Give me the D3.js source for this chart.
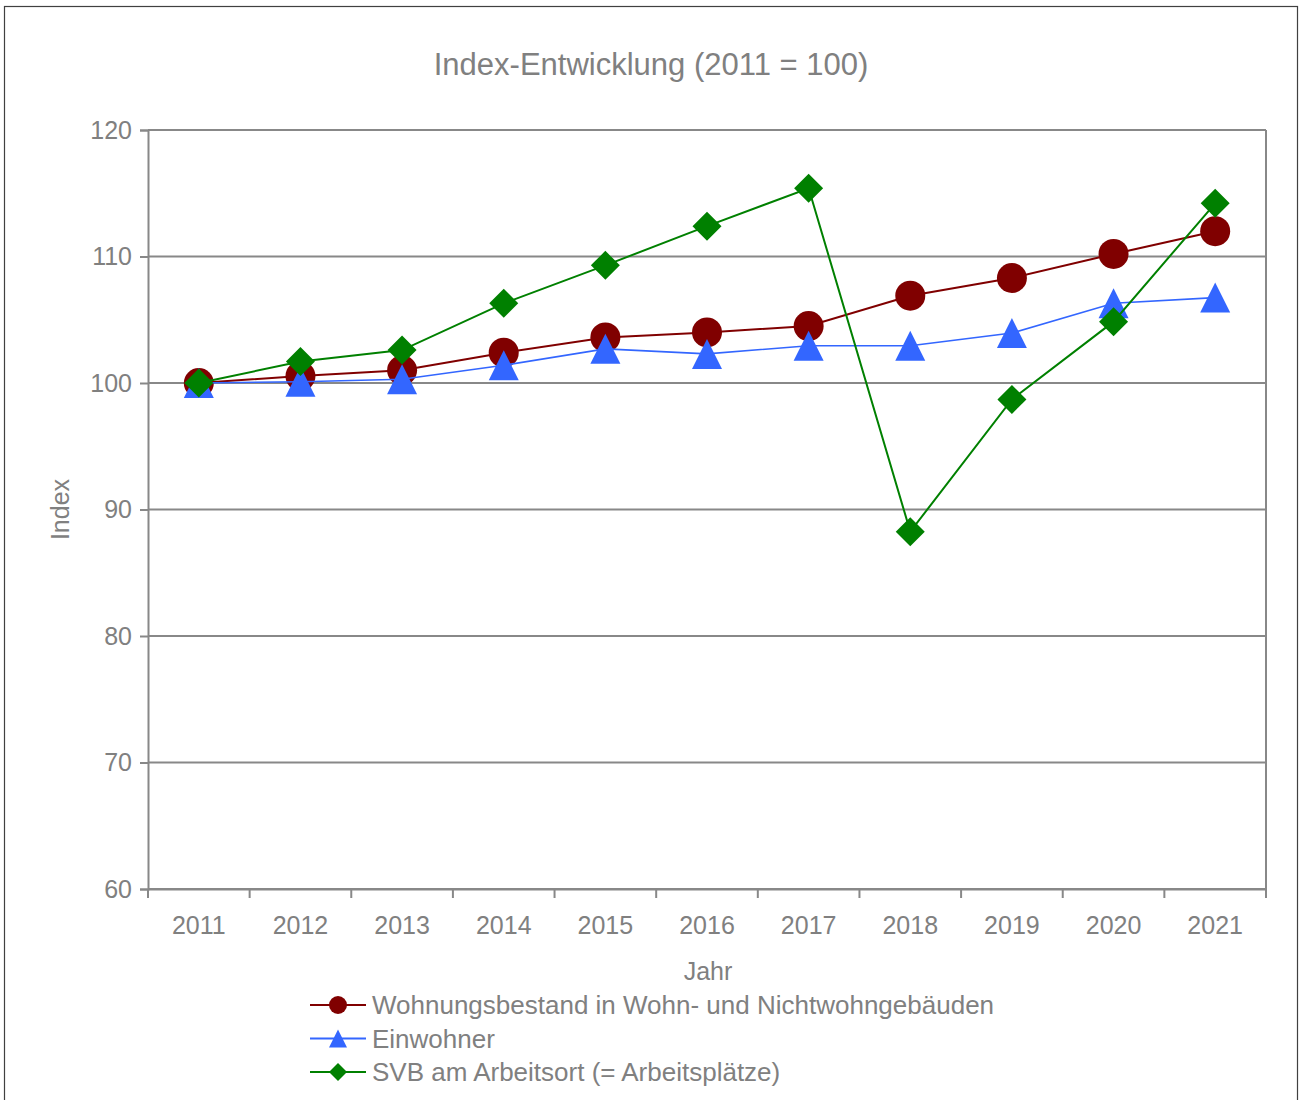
<!DOCTYPE html>
<html>
<head>
<meta charset="utf-8">
<script src="https://cdn.jsdelivr.net/npm/d3@7"></script>
<style>
  body { margin: 0; background: #fff; }
  text { font-family: "Liberation Sans", Arial, sans-serif; fill: #808080; }
</style>
</head>
<body>
<script>
// data
var years = ["2011", "2012", "2013", "2014", "2015", "2016", "2017", "2018", "2019", "2020", "2021"];
var wohnungen = [100, 100.55, 101.0, 102.4, 103.6, 104.0, 104.5, 106.9, 108.3, 110.2, 112.0];
var einwohner = [100, 100.1, 100.3, 101.4, 102.7, 102.3, 102.95, 102.95, 103.95, 106.3, 106.75];
var svb = [100, 101.7, 102.6, 106.3, 109.3, 112.4, 115.4, 88.25, 98.7, 104.85, 114.2];
var yTicks = [60, 70, 80, 90, 100, 110, 120];
var seriesNames = ["Wohnungsbestand in Wohn- und Nichtwohngebäuden", "Einwohner", "SVB am Arbeitsort (= Arbeitsplätze)"];

var width = 1300;
var height = 1100;
var margin = { top: 130, right: 34, bottom: 211, left: 148 };

var svg = d3.select("body")
    .append("svg")
    .attr("width", width)
    .attr("height", height);

// outer chart border
svg.append("rect")
    .attr("x", 4.5).attr("y", 6.5)
    .attr("width", 1293).attr("height", 1110)
    .attr("fill", "none")
    .attr("stroke", "#404040")
    .attr("stroke-width", 1.2);

var x = d3.scaleBand()
    .domain(years)
    .range([margin.left, width - margin.right]);

var y = d3.scaleLinear()
    .domain([60, 120])
    .range([height - margin.bottom, margin.top]);

// marker shapes, r = half size
function marker(type, r) {
    if (type === "circle") {
        return d3.symbol().type(d3.symbolCircle).size(Math.PI * r * r)();
    }
    if (type === "triangle") {
        return "M0," + (-r) + "L" + r + "," + r + "L" + (-r) + "," + r + "Z";
    }
    return "M0," + (-r) + "L" + r + ",0L0," + r + "L" + (-r) + ",0Z";
}

// grid lines
svg.append("g")
    .selectAll("line")
    .data(yTicks)
    .enter()
    .append("line")
    .attr("x1", margin.left)
    .attr("x2", width - margin.right)
    .attr("y1", function(d) { return y(d); })
    .attr("y2", function(d) { return y(d); })
    .attr("stroke", "#888")
    .attr("stroke-width", 2);

// right frame line
svg.append("line")
    .attr("x1", width - margin.right).attr("x2", width - margin.right)
    .attr("y1", margin.top).attr("y2", height - margin.bottom)
    .attr("stroke", "#888")
    .attr("stroke-width", 2);

// y axis
var yAxis = svg.append("g")
    .attr("transform", "translate(" + margin.left + ",0)")
    .call(d3.axisLeft(y).tickValues(yTicks).tickSize(8).tickPadding(8));
yAxis.select(".domain").attr("stroke", "#888").attr("stroke-width", 2);
yAxis.selectAll(".tick line").attr("stroke", "#888").attr("stroke-width", 2);
yAxis.selectAll("text").style("font-size", "25px").attr("fill", "#808080")
    .style("font-family", "Liberation Sans, Arial, sans-serif");

// x axis: ticks between categories
var xAxis = svg.append("g")
    .attr("transform", "translate(0," + (height - margin.bottom) + ")")
    .call(d3.axisBottom(x).tickSize(0).tickPadding(27));
xAxis.select(".domain").attr("stroke", "#888").attr("stroke-width", 2);
xAxis.selectAll("text").style("font-size", "25px").attr("fill", "#808080")
    .style("font-family", "Liberation Sans, Arial, sans-serif");

svg.append("g")
    .selectAll("line")
    .data(years.concat(["end"]))
    .enter()
    .append("line")
    .attr("x1", function(d, i) { return margin.left + i * x.bandwidth(); })
    .attr("x2", function(d, i) { return margin.left + i * x.bandwidth(); })
    .attr("y1", height - margin.bottom)
    .attr("y2", height - margin.bottom + 9)
    .attr("stroke", "#888")
    .attr("stroke-width", 2);

// titles
svg.append("text")
    .attr("x", 651).attr("y", 75)
    .attr("text-anchor", "middle")
    .style("font-size", "31px")
    .text("Index-Entwicklung (2011 = 100)");

svg.append("text")
    .attr("transform", "translate(69," + y(90) + ") rotate(-90)")
    .attr("text-anchor", "middle")
    .style("font-size", "25px")
    .text("Index");

svg.append("text")
    .attr("x", 708).attr("y", 980)
    .attr("text-anchor", "middle")
    .style("font-size", "25px")
    .text("Jahr");

var series = [
    { name: seriesNames[0], values: wohnungen, color: "#800000", shape: "circle", r: 15, lr: 9, lw: 2 },
    { name: seriesNames[1], values: einwohner, color: "#3366ff", shape: "triangle", r: 15, lr: 9, lw: 1.6 },
    { name: seriesNames[2], values: svb, color: "#008000", shape: "diamond", r: 14.5, lr: 9, lw: 2 }
];

var line = d3.line()
    .x(function(d, i) { return x(years[i]) + x.bandwidth() / 2; })
    .y(function(d) { return y(d); });

series.forEach(function(s) {
    var g = svg.append("g");
    g.append("path")
        .datum(s.values)
        .attr("d", line)
        .attr("fill", "none")
        .attr("stroke", s.color)
        .attr("stroke-width", s.lw);
    g.selectAll("path.m")
        .data(s.values)
        .enter()
        .append("path")
        .attr("class", "m")
        .attr("d", marker(s.shape, s.r))
        .attr("fill", s.color)
        .attr("transform", function(d, i) {
            return "translate(" + (x(years[i]) + x.bandwidth() / 2) + "," + y(d) + ")";
        });
});

// legend
var legend = svg.append("g")
    .selectAll("g")
    .data(series)
    .enter()
    .append("g")
    .attr("transform", function(d, i) { return "translate(310," + (1005 + i * 33.5) + ")"; });

legend.append("line")
    .attr("x1", 0).attr("x2", 56)
    .attr("stroke", function(d) { return d.color; })
    .attr("stroke-width", 2);

legend.append("path")
    .attr("d", function(d) { return marker(d.shape, d.lr); })
    .attr("fill", function(d) { return d.color; })
    .attr("transform", "translate(28,0)");

legend.append("text")
    .attr("x", 62)
    .attr("dy", "0.36em")
    .style("font-size", "26px")
    .text(function(d) { return d.name; });
</script>
</body>
</html>
